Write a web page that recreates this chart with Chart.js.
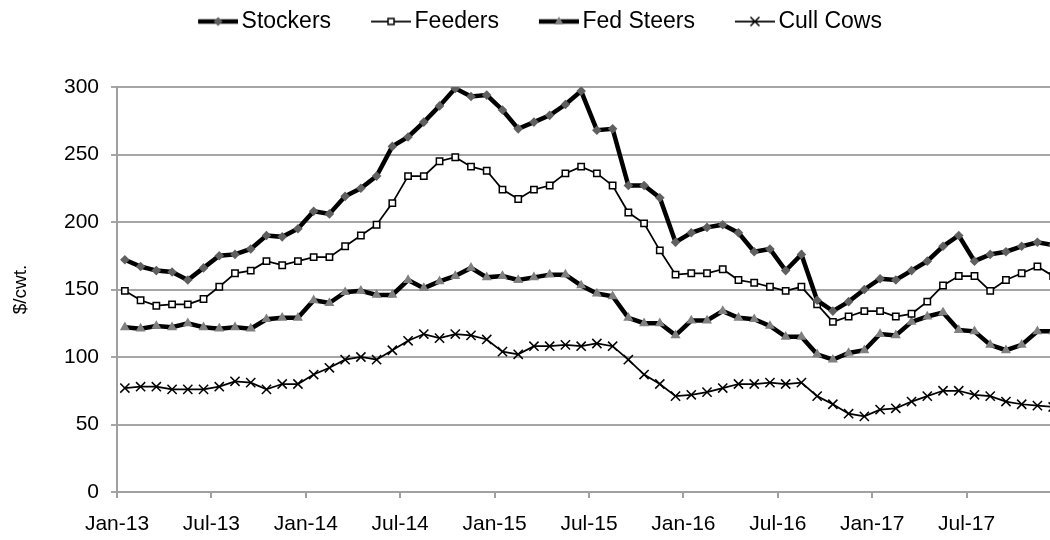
<!DOCTYPE html>
<html>
<head>
<meta charset="utf-8">
<script src="https://cdn.jsdelivr.net/npm/chart.js@4.4.0/dist/chart.umd.min.js"></script>
<style>
  html, body { margin: 0; padding: 0; background: #fff; overflow: hidden; }
  #wrap { width: 1050px; height: 540px; }
</style>
</head>
<body>
<div id="wrap"><canvas id="chart" width="1050" height="540"></canvas></div>
<script>
// Monthly prices, $/cwt. (Jan-13 .. Dec-17)
const months = [
  'Jan-13','Feb-13','Mar-13','Apr-13','May-13','Jun-13','Jul-13','Aug-13','Sep-13','Oct-13','Nov-13','Dec-13',
  'Jan-14','Feb-14','Mar-14','Apr-14','May-14','Jun-14','Jul-14','Aug-14','Sep-14','Oct-14','Nov-14','Dec-14',
  'Jan-15','Feb-15','Mar-15','Apr-15','May-15','Jun-15','Jul-15','Aug-15','Sep-15','Oct-15','Nov-15','Dec-15',
  'Jan-16','Feb-16','Mar-16','Apr-16','May-16','Jun-16','Jul-16','Aug-16','Sep-16','Oct-16','Nov-16','Dec-16',
  'Jan-17','Feb-17','Mar-17','Apr-17','May-17','Jun-17','Jul-17','Aug-17','Sep-17','Oct-17','Nov-17','Dec-17'
];

const stockers = [172,167,164,163,157,166,175,176,180,190,189,195,208,206,219,225,234,256,263,274,286,299,293,294,
  283,269,274,279,287,297,268,269,227,227,218,185,192,196,198,192,178,180,164,176,142,134,141,150,158,157,
  164,171,182,190,171,176,178,182,185,183];
const feeders = [149,142,138,139,139,143,152,162,164,171,168,171,174,174,182,190,198,214,234,234,245,248,241,238,
  224,217,224,227,236,241,236,227,207,199,179,161,162,162,165,157,155,152,149,152,139,126,130,134,134,130,
  132,141,153,160,160,149,157,162,167,160];
const fedSteers = [122,121,123,122,125,122,121,122,121,128,129,129,142,140,148,149,146,146,157,151,156,160,166,159,
  160,157,159,161,161,153,147,145,129,125,125,116,127,127,134,129,128,123,115,115,102,98,103,105,117,116,
  126,130,133,120,119,109,105,109,119,119];
const cullCows = [77,78,78,76,76,76,78,82,81,76,80,80,87,92,98,100,98,105,112,117,114,117,116,113,
  104,102,108,108,109,108,110,108,98,87,80,71,72,74,77,80,80,81,80,81,71,65,58,56,61,62,
  67,71,75,75,72,71,67,65,64,63];

const yTicks = [0, 50, 100, 150, 200, 250, 300];
const labelEvery = 6;

const FONT = "'Liberation Sans', Arial, sans-serif";

// legend swatch: a line with the series marker in the middle.
// The image is centred on the legend box, so the visible part sits on its right half.
function swatch(lineWidth, drawMarker) {
  const c = document.createElement('canvas');
  c.width = 78;
  c.height = 16;
  const g = c.getContext('2d');
  g.strokeStyle = '#000';
  g.lineWidth = lineWidth;
  g.beginPath();
  g.moveTo(38, 8);
  g.lineTo(78, 8);
  g.stroke();
  drawMarker(g, 58, 8);
  return c;
}

const legendIcons = [
  swatch(4.5, (g, x, y) => {
    g.fillStyle = '#606060';
    g.beginPath();
    g.moveTo(x, y - 4.5); g.lineTo(x + 4.5, y); g.lineTo(x, y + 4.5); g.lineTo(x - 4.5, y);
    g.closePath(); g.fill();
  }),
  swatch(1.75, (g, x, y) => {
    g.fillStyle = '#fff';
    g.strokeStyle = '#000';
    g.lineWidth = 1.5;
    g.fillRect(x - 3, y - 3, 6, 6);
    g.strokeRect(x - 3, y - 3, 6, 6);
  }),
  swatch(4.5, (g, x, y) => {
    g.fillStyle = '#808080';
    g.beginPath();
    g.moveTo(x, y - 5); g.lineTo(x + 4.5, y + 3); g.lineTo(x - 4.5, y + 3);
    g.closePath(); g.fill();
  }),
  swatch(1.75, (g, x, y) => {
    g.strokeStyle = '#000';
    g.lineWidth = 1.5;
    g.beginPath();
    g.moveTo(x - 4.5, y - 4.5); g.lineTo(x + 4.5, y + 4.5);
    g.moveTo(x + 4.5, y - 4.5); g.lineTo(x - 4.5, y + 4.5);
    g.stroke();
  })
];

function toPoints(values) {
  return values.map((v, i) => ({ x: i, y: v }));
}

const datasets = [
  {
    label: 'Stockers',
    data: toPoints(stockers),
    borderColor: '#000',
    borderWidth: 4.5,
    pointStyle: 'rectRot',
    pointRadius: 4.8,
    pointBackgroundColor: '#606060',
    pointBorderColor: '#606060',
    pointBorderWidth: 0
  },
  {
    label: 'Feeders',
    data: toPoints(feeders),
    borderColor: '#000',
    borderWidth: 1.75,
    pointStyle: 'rect',
    pointRadius: 4.5,
    pointBackgroundColor: '#fff',
    pointBorderColor: '#000',
    pointBorderWidth: 1.5
  },
  {
    label: 'Fed Steers',
    data: toPoints(fedSteers),
    borderColor: '#000',
    borderWidth: 4.5,
    pointStyle: 'triangle',
    pointRadius: 5.8,
    pointBackgroundColor: '#808080',
    pointBorderColor: '#808080',
    pointBorderWidth: 0
  },
  {
    label: 'Cull Cows',
    data: toPoints(cullCows),
    borderColor: '#000',
    borderWidth: 1.75,
    pointStyle: 'crossRot',
    pointRadius: 6.5,
    pointBackgroundColor: '#000',
    pointBorderColor: '#000',
    pointBorderWidth: 1.5
  }
];

// tick marks sit between months, every 6 months
const xTickValues = [];
for (let i = 0; i < months.length - 1; i += labelEvery) {
  xTickValues.push(i - 0.5);
}

// extra room under the legend so the plot starts lower
const legendGap = {
  id: 'legendGap',
  beforeInit(chart) {
    if (!chart.legend) return;
    const origFit = chart.legend.fit;
    chart.legend.fit = function () {
      origFit.call(this);
      this.height += 44;
    };
  }
};

new Chart(document.getElementById('chart'), {
  type: 'line',
  data: { datasets: datasets },
  plugins: [legendGap],
  options: {
    responsive: false,
    devicePixelRatio: 1,
    animation: false,
    layout: { autoPadding: false, padding: { top: 0, right: 0, bottom: 0, left: 0 } },
    elements: { line: { tension: 0 } },
    plugins: {
      tooltip: { enabled: false },
      legend: {
        position: 'top',
        labels: {
          usePointStyle: true,
          pointStyleWidth: 62,
          padding: 10,
          color: '#000',
          font: { family: FONT, size: 23 },
          generateLabels: (chart) => {
            const items = Chart.defaults.plugins.legend.labels.generateLabels(chart);
            items.forEach((item, i) => { item.pointStyle = legendIcons[i]; });
            return items;
          }
        }
      }
    },
    scales: {
      x: {
        type: 'linear',
        min: -0.5,
        max: 58.8,
        afterBuildTicks: (scale) => {
          scale.ticks = xTickValues.map(v => ({ value: v }));
        },
        afterFit: (scale) => {
          scale.height = 48;
          scale.paddingLeft = 0;
          scale.paddingRight = 0;
        },
        ticks: {
          autoSkip: false,
          maxRotation: 0,
          padding: 14,
          color: '#000',
          font: { family: FONT, size: 21 },
          callback: (v) => months[Math.round(v + 0.5)]
        },
        grid: { drawOnChartArea: false, drawTicks: true, tickLength: 6, color: '#a0a0a0', lineWidth: 2 },
        border: { display: true, color: '#a0a0a0', width: 2 }
      },
      y: {
        min: yTicks[0],
        max: yTicks[yTicks.length - 1],
        afterFit: (scale) => {
          scale.width = 117;
        },
        ticks: {
          stepSize: 50,
          padding: 12,
          color: '#000',
          font: { family: FONT, size: 21 }
        },
        grid: { color: '#a6a6a6', lineWidth: 2, tickLength: 6 },
        border: { display: true, color: '#a0a0a0', width: 2 },
        title: {
          display: true,
          text: '$/cwt.',
          color: '#000',
          padding: { top: 9, bottom: 0 },
          font: { family: FONT, size: 19 }
        }
      }
    }
  }
});
</script>
</body>
</html>
